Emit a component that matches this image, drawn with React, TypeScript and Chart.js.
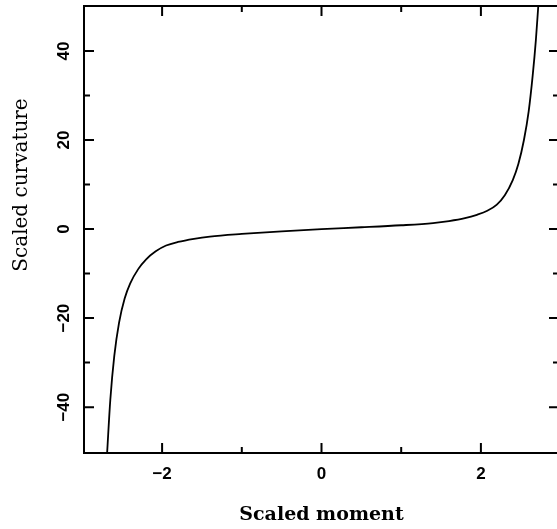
import React, { useEffect, useRef } from 'react';
import { Chart, registerables } from 'chart.js';

Chart.register(...registerables);

// Data
const moment = [-2.69, -2.65, -2.60, -2.54, -2.47, -2.40, -2.30, -2.20, -2.08, -1.95, -1.80, -1.60, -1.40, -1.00, -0.50, 0, 0.50, 1.00, 1.40, 1.60, 1.80, 1.95, 2.08, 2.20, 2.30, 2.40, 2.47, 2.54, 2.60, 2.65, 2.69, 2.72];
const curvature = [-50.3, -38.4, -28.5, -21.0, -15.6, -12.2, -9.0, -6.8, -5.0, -3.7, -2.9, -2.2, -1.7, -1.1, -0.5, 0, 0.4, 0.85, 1.35, 1.8, 2.45, 3.2, 4.1, 5.5, 7.6, 11.0, 14.6, 20.0, 26.5, 34.5, 42.5, 50.1];

const xMajorTicks = [-2, 0, 2];
const xMajorLabels = ['\u22122', '0', '2'];
const xMinorTicks = [-1, 1];
const yMajorTicks = [-40, -20, 0, 20, 40];
const yMajorLabels = ['\u221240', '\u221220', '0', '20', '40'];
const yMinorTicks = [-30, -10, 10, 30];

const xTitle = 'Scaled moment';
const yTitle = 'Scaled curvature';

const X_MIN = -2.98;
const X_MAX = 2.98;
const Y_MIN = -50.3;
const Y_MAX = 50.1;

const framePlugin = {
  id: 'frameTicks',
  afterDraw(chart: any) {
    const { ctx, chartArea, scales } = chart;
    const { left, right, top, bottom } = chartArea;
    const xs = scales.x;
    const ys = scales.y;
    ctx.save();
    ctx.strokeStyle = '#000';
    ctx.lineWidth = 2;
    ctx.beginPath();
    ctx.moveTo(right + 2, top);
    ctx.lineTo(left, top);
    ctx.lineTo(left, bottom);
    ctx.lineTo(right + 2, bottom);
    ctx.stroke();
    const major = 10;
    const minor = 6;
    ctx.beginPath();
    const xTick = (v: number, len: number) => {
      const px = xs.getPixelForValue(v);
      ctx.moveTo(px, bottom);
      ctx.lineTo(px, bottom - len);
      ctx.moveTo(px, top);
      ctx.lineTo(px, top + len);
    };
    const yTick = (v: number, len: number) => {
      const py = ys.getPixelForValue(v);
      ctx.moveTo(left, py);
      ctx.lineTo(left + len, py);
      ctx.moveTo(right, py);
      ctx.lineTo(right - len, py);
    };
    xMajorTicks.forEach((v) => xTick(v, major));
    xMinorTicks.forEach((v) => xTick(v, minor));
    yMajorTicks.forEach((v) => yTick(v, major));
    yMinorTicks.forEach((v) => yTick(v, minor));
    ctx.stroke();

    // y tick labels (rotated)
    ctx.fillStyle = '#000';
    ctx.font = 'bold 17px "Liberation Sans"';
    ctx.textAlign = 'center';
    ctx.textBaseline = 'middle';
    yMajorTicks.forEach((v, i) => {
      const py = ys.getPixelForValue(v);
      ctx.save();
      ctx.translate(left - 20, py);
      ctx.rotate(-Math.PI / 2);
      ctx.fillText(yMajorLabels[i], 0, 0);
      ctx.restore();
    });

    // y title
    ctx.font = '20px "DejaVu Serif"';
    ctx.save();
    ctx.translate(22, 185);
    ctx.rotate(-Math.PI / 2);
    ctx.fillText(yTitle, 0, 0);
    ctx.restore();
    ctx.restore();
  },
};

export default function App() {
  const ref = useRef<HTMLCanvasElement | null>(null);
  useEffect(() => {
    if (!ref.current) return;
    const chart = new Chart(ref.current, {
      type: 'line',
      data: {
        datasets: [
          {
            data: moment.map((m, i) => ({ x: m, y: curvature[i] })),
            borderColor: '#000',
            borderWidth: 1.8,
            pointRadius: 0,
            fill: false,
            cubicInterpolationMode: 'monotone',
          },
        ],
      },
      options: {
        animation: false,
        responsive: false,
        maintainAspectRatio: false,
        layout: { padding: { left: 0, top: 6, right: 3, bottom: 0 } },
        plugins: { legend: { display: false }, tooltip: { enabled: false } },
        scales: {
          x: {
            type: 'linear',
            min: X_MIN,
            max: X_MAX,
            afterBuildTicks: (scale: any) => {
              scale.ticks = xMajorTicks.map((v) => ({ value: v }));
            },
            afterFit: (scale: any) => {
              scale.height = 76;
            },
            grid: { display: false, drawTicks: false },
            border: { display: false },
            ticks: {
              color: '#000',
              font: { family: 'Liberation Sans', weight: 'bold', size: 17 },
              padding: 11,
              maxRotation: 0,
              minRotation: 0,
              callback: (v: any) => {
                const i = xMajorTicks.indexOf(Number(v));
                return i >= 0 ? xMajorLabels[i] : '';
              },
            },
            title: {
              display: true,
              text: xTitle,
              color: '#000',
              font: { family: 'DejaVu Serif', weight: 'bold', size: 19 },
              padding: { top: 0, bottom: 3 },
            },
          },
          y: {
            type: 'linear',
            min: Y_MIN,
            max: Y_MAX,
            afterBuildTicks: (scale: any) => {
              scale.ticks = yMajorTicks.map((v) => ({ value: v }));
            },
            afterFit: (scale: any) => {
              scale.width = 84;
            },
            grid: { display: false, drawTicks: false },
            border: { display: false },
            ticks: { display: false },
          },
        },
      },
      plugins: [framePlugin],
    } as any);
    return () => chart.destroy();
  }, []);
  return (
    <div style={{ position: 'absolute', left: 0, top: 0, width: 557, height: 529, overflow: 'hidden', background: '#fff' }}>
      <canvas ref={ref} width={562} height={529} style={{ display: 'block', width: 562, height: 529 }} />
    </div>
  );
}
